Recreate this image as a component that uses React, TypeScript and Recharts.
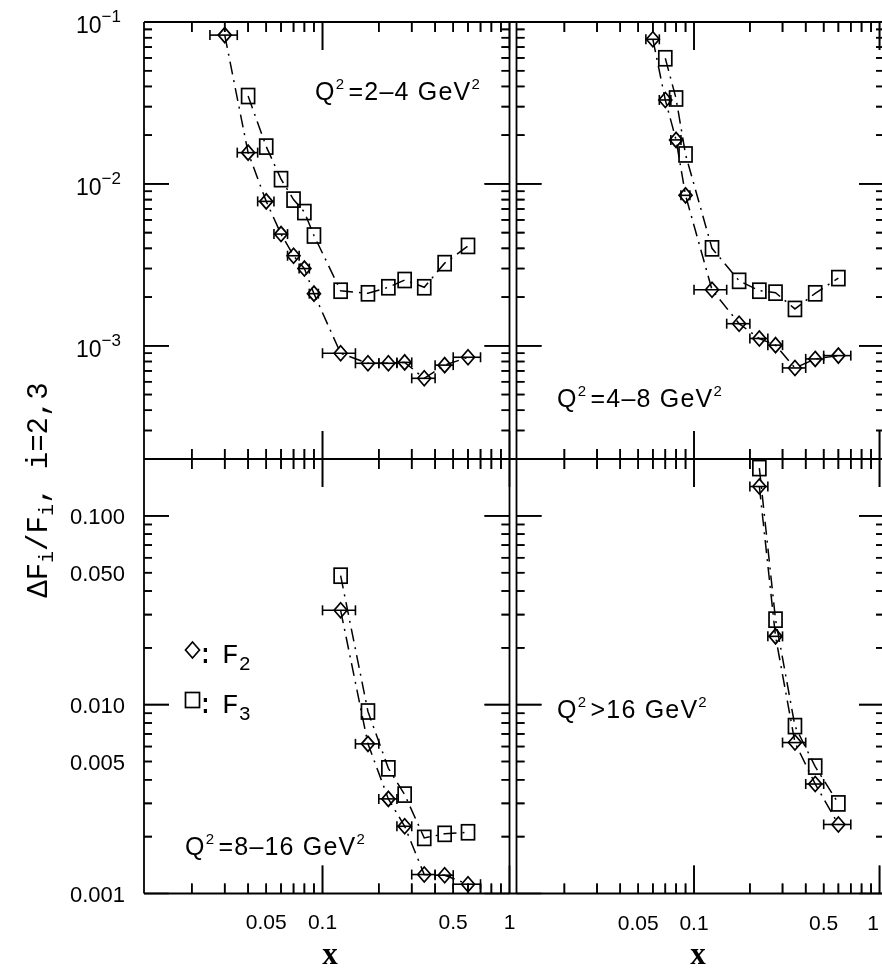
import React from 'react';
import { ScatterChart, Scatter, XAxis, YAxis, ErrorBar, ReferenceLine } from 'recharts';

// ---- x bins (centre, low edge, high edge) ----
const binCenters = [0.03, 0.04, 0.05, 0.06, 0.07, 0.08, 0.09, 0.125, 0.175, 0.225, 0.275, 0.35, 0.45, 0.6];
const binLow = [0.025, 0.035, 0.045, 0.055, 0.065, 0.075, 0.085, 0.1, 0.15, 0.2, 0.25, 0.3, 0.4, 0.5];
const binHigh = [0.035, 0.045, 0.055, 0.065, 0.075, 0.085, 0.095, 0.15, 0.2, 0.25, 0.3, 0.4, 0.5, 0.7];

// ---- Q^2 = 2-4 GeV^2 ----
const p1F2x = [0.03, 0.04, 0.05, 0.06, 0.07, 0.08, 0.09, 0.125, 0.175, 0.225, 0.275, 0.35, 0.45, 0.6];
const p1F2y = [0.083, 0.0156, 0.0078, 0.0049, 0.0036, 0.003, 0.0021, 0.0009, 0.00078, 0.00078, 0.00079, 0.00063, 0.00076, 0.00085];
const p1F3x = [0.04, 0.05, 0.06, 0.07, 0.08, 0.09, 0.125, 0.175, 0.225, 0.275, 0.35, 0.45, 0.6];
const p1F3y = [0.0349, 0.017, 0.0107, 0.008, 0.0067, 0.0048, 0.00219, 0.00211, 0.0023, 0.00255, 0.0023, 0.00324, 0.00414];

// ---- Q^2 = 4-8 GeV^2 ----
const p2F2x = [0.06, 0.07, 0.08, 0.09, 0.125, 0.175, 0.225, 0.275, 0.35, 0.45, 0.6];
const p2F2y = [0.0782, 0.033, 0.0187, 0.0085, 0.00222, 0.00137, 0.00111, 0.00101, 0.00073, 0.00083, 0.00087];
const p2F3x = [0.07, 0.08, 0.09, 0.125, 0.175, 0.225, 0.275, 0.35, 0.45, 0.6];
const p2F3y = [0.0597, 0.0337, 0.0152, 0.004, 0.00252, 0.00219, 0.00213, 0.00169, 0.00211, 0.00262];

// ---- Q^2 = 8-16 GeV^2 ----
const p3F2x = [0.125, 0.175, 0.225, 0.275, 0.35, 0.45, 0.6];
const p3F2y = [0.0316, 0.0062, 0.00317, 0.00227, 0.00126, 0.00125, 0.00112];
const p3F3x = [0.125, 0.175, 0.225, 0.275, 0.35, 0.45, 0.6];
const p3F3y = [0.0482, 0.0092, 0.0046, 0.00334, 0.00197, 0.00207, 0.00211];

// ---- Q^2 > 16 GeV^2 ----
const p4F2x = [0.225, 0.275, 0.35, 0.45, 0.6];
const p4F2y = [0.143, 0.023, 0.0063, 0.0038, 0.00232];
const p4F3x = [0.225, 0.275, 0.35, 0.45, 0.6];
const p4F3y = [0.179, 0.0282, 0.0077, 0.0047, 0.003];

// ---- ticks ----
const xTicks = [0.02, 0.03, 0.04, 0.05, 0.06, 0.07, 0.08, 0.09, 0.1, 0.2, 0.3, 0.4, 0.5, 0.6, 0.7, 0.8, 0.9, 1];
const xLabelValues = [0.05, 0.1, 0.5, 1];
const xLabelTexts = ['0.05', '0.1', '0.5', '1'];

const yTicksTop = [0.0003, 0.0004, 0.0005, 0.0006, 0.0007, 0.0008, 0.0009, 0.001, 0.002, 0.003, 0.004, 0.005, 0.006, 0.007, 0.008, 0.009, 0.01, 0.02, 0.03, 0.04, 0.05, 0.06, 0.07, 0.08, 0.09, 0.1];
const yTopLabelValues = [0.1, 0.01, 0.001];
const yTopLabelExps = ['\u22121', '\u22122', '\u22123'];

const yTicksBottom = [0.001, 0.002, 0.003, 0.004, 0.005, 0.006, 0.007, 0.008, 0.009, 0.01, 0.02, 0.03, 0.04, 0.05, 0.06, 0.07, 0.08, 0.09, 0.1];
const yBottomLabelValues = [0.1, 0.05, 0.01, 0.005, 0.001];
const yBottomLabelTexts = ['0.100', '0.050', '0.010', '0.005', '0.001'];

const SANS = '"Liberation Sans", Arial, Helvetica, sans-serif';
const MONO = '"Liberation Mono", "Courier New", monospace';
const SERIF = '"Liberation Serif", "Times New Roman", serif';

// ---- layout: one chart, four log-log panels sharing its plot area ----
const CHART_W = 890;
const CHART_H = 973;
const PLOT = { left: 144, right: 884, top: 22, bottom: 893.5 };
const EDGE_X = { leftL: 144, leftR: 509.5, rightL: 516.5, rightR: 884 };
const EDGE_Y = { top: 22, mid: 459, bottom: 893.5 };
type Cal = { v0: number; p0: number; v1: number; p1: number };
const xLeftCal: Cal = { v0: 0.0111, p0: EDGE_X.leftL, v1: 1, p1: EDGE_X.leftR };
const xRightCal: Cal = { v0: 0.01104, p0: EDGE_X.rightL, v1: 1.057, p1: EDGE_X.rightR };
const yTopCal: Cal = { v0: 0.1, p0: EDGE_Y.top, v1: 0.0002, p1: EDGE_Y.mid };
const yBotCal: Cal = { v0: 0.2, p0: EDGE_Y.mid, v1: 0.001, p1: EDGE_Y.bottom };

const lg = Math.log10;
const valueAt = (c: Cal, p: number) => Math.pow(10, lg(c.v0) + ((p - c.p0) * (lg(c.v1) - lg(c.v0))) / (c.p1 - c.p0));
const pxPerDec = (c: Cal) => Math.abs((c.p1 - c.p0) / (lg(c.v1) - lg(c.v0)));
const domainX = (c: Cal) => [valueAt(c, PLOT.left), valueAt(c, PLOT.right)];
const domainY = (c: Cal) => [valueAt(c, PLOT.bottom), valueAt(c, PLOT.top)];

const buildSeries = (xs: number[], ys: number[]) =>
  xs.map((x, i) => {
    const k = binCenters.indexOf(x);
    return { x, y: ys[i], xerr: [x - binLow[k], binHigh[k] - x] };
  });

const isMajor = (v: number) => Math.abs(lg(v) - Math.round(lg(v))) < 1e-6;

const X_MAJOR = 28;
const X_MINOR = 10;
const Y_MAJOR = 25;
const Y_MINOR = 8;
const TICK_W = 1.6;

// ---- axis tick renderers: inward tick marks on every panel edge + labels ----
const makeXTick = (maxX: number) => (props: any) => {
  const { x, y, payload } = props;
  const X = Number(x);
  const Y = Number(y);
  const v = payload.value;
  const L = isMajor(v) ? X_MAJOR : X_MINOR;
  const li = xLabelValues.indexOf(v);
  const d =
    `M${X},${EDGE_Y.top}L${X},${EDGE_Y.top + L}` +
    `M${X},${EDGE_Y.mid}L${X},${EDGE_Y.mid - L}` +
    `M${X},${EDGE_Y.mid}L${X},${EDGE_Y.mid + L}` +
    `M${X},${EDGE_Y.bottom}L${X},${EDGE_Y.bottom - L}`;
  return (
    <g>
      <path d={d} stroke="#000" strokeWidth={TICK_W} fill="none" />
      {li >= 0 && (
        <text x={Math.min(X, maxX)} y={Y + 35} textAnchor="middle" fontFamily={SANS} fontSize={21} fill="#000">
          {xLabelTexts[li]}
        </text>
      )}
    </g>
  );
};

const yTickPath = (Y: number, L: number) =>
  `M${EDGE_X.leftL},${Y}L${EDGE_X.leftL + L},${Y}` +
  `M${EDGE_X.leftR},${Y}L${EDGE_X.leftR - L},${Y}` +
  `M${EDGE_X.rightL},${Y}L${EDGE_X.rightL + L},${Y}` +
  `M${EDGE_X.rightR},${Y}L${EDGE_X.rightR - L},${Y}`;

const topYTick = (props: any) => {
  const { x, y, payload } = props;
  const X = Number(x);
  const Y = Number(y);
  const v = payload.value;
  const li = yTopLabelValues.indexOf(v);
  return (
    <g>
      <path d={yTickPath(Y, isMajor(v) ? Y_MAJOR : Y_MINOR)} stroke="#000" strokeWidth={TICK_W} fill="none" />
      {li >= 0 && (
        <text x={X - 22} y={Y + 11} textAnchor="end" fontFamily={SANS} fontSize={23} fill="#000">
          10
          <tspan dy={-11} fontSize={17}>
            {yTopLabelExps[li]}
          </tspan>
        </text>
      )}
    </g>
  );
};

const bottomYTick = (props: any) => {
  const { x, y, payload } = props;
  const X = Number(x);
  const Y = Number(y);
  const v = payload.value;
  const li = yBottomLabelValues.indexOf(v);
  return (
    <g>
      <path d={yTickPath(Y, isMajor(v) ? Y_MAJOR : Y_MINOR)} stroke="#000" strokeWidth={TICK_W} fill="none" />
      {li >= 0 && (
        <text x={X - 19} y={Y + 8} textAnchor="end" fontFamily={SANS} fontSize={22} fill="#000">
          {yBottomLabelTexts[li]}
        </text>
      )}
    </g>
  );
};

// ---- markers ----
const DiamondShape = (props: any) => {
  const { cx, cy } = props;
  if (cx == null || cy == null) return <g />;
  return (
    <polygon
      points={`${cx},${cy - 7.5} ${cx + 6.5},${cy} ${cx},${cy + 7.5} ${cx - 6.5},${cy}`}
      fill="none"
      stroke="#000"
      strokeWidth={1.7}
    />
  );
};

const SquareShape = (props: any) => {
  const { cx, cy } = props;
  if (cx == null || cy == null) return <g />;
  return <rect x={cx - 6.5} y={cy - 7.5} width={13} height={15} fill="none" stroke="#000" strokeWidth={1.7} />;
};

const HiddenShape = () => <g />;

const lineStyle = { stroke: '#000', strokeWidth: 1.5, strokeDasharray: '13 6 2 6' };

type PanelDef = {
  key: string;
  xId: string;
  yId: string;
  xCal: Cal;
  yCal: Cal;
  x0: number;
  x1: number;
  y0: number;
  y1: number;
  yTicks: number[];
  f2: { x: number; y: number; xerr: number[] }[];
  f3: { x: number; y: number; xerr: number[] }[];
};

const panels: PanelDef[] = [
  { key: 'a', xId: 'xl', yId: 'yt', xCal: xLeftCal, yCal: yTopCal, x0: 0.0111, x1: 1, y0: 0.0002, y1: 0.1, yTicks: yTicksTop, f2: buildSeries(p1F2x, p1F2y), f3: buildSeries(p1F3x, p1F3y) },
  { key: 'b', xId: 'xr', yId: 'yt', xCal: xRightCal, yCal: yTopCal, x0: 0.01104, x1: 1.057, y0: 0.0002, y1: 0.1, yTicks: yTicksTop, f2: buildSeries(p2F2x, p2F2y), f3: buildSeries(p2F3x, p2F3y) },
  { key: 'c', xId: 'xl', yId: 'yb', xCal: xLeftCal, yCal: yBotCal, x0: 0.0111, x1: 1, y0: 0.001, y1: 0.2, yTicks: yTicksBottom, f2: buildSeries(p3F2x, p3F2y), f3: buildSeries(p3F3x, p3F3y) },
  { key: 'd', xId: 'xr', yId: 'yb', xCal: xRightCal, yCal: yBotCal, x0: 0.01104, x1: 1.057, y0: 0.001, y1: 0.2, yTicks: yTicksBottom, f2: buildSeries(p4F2x, p4F2y), f3: buildSeries(p4F3x, p4F3y) },
];

// tick anchors on the panel edges; their error bars (in data units) draw the inward marks
const tickAnchors = (p: PanelDef) => {
  const fy = (L: number) => Math.pow(10, L / pxPerDec(p.yCal));
  const fx = (L: number) => Math.pow(10, L / pxPerDec(p.xCal));
  const pts: { x: number; y: number; ex: number[]; ey: number[] }[] = [];
  xTicks
    .filter((v) => v > p.x0 * 1.0001 && v < p.x1 * 0.9999)
    .forEach((v) => {
      const f = fy(isMajor(v) ? X_MAJOR : X_MINOR);
      pts.push({ x: v, y: p.y0, ex: [0, 0], ey: [0, p.y0 * f - p.y0] });
      pts.push({ x: v, y: p.y1, ex: [0, 0], ey: [p.y1 - p.y1 / f, 0] });
    });
  p.yTicks
    .filter((v) => v > p.y0 * 1.0001 && v < p.y1 * 0.9999)
    .forEach((v) => {
      const g = fx(isMajor(v) ? Y_MAJOR : Y_MINOR);
      pts.push({ x: p.x0, y: v, ex: [0, p.x0 * g - p.x0], ey: [0, 0] });
      pts.push({ x: p.x1, y: v, ex: [p.x1 - p.x1 / g, 0], ey: [0, 0] });
    });
  return pts;
};

const Sup = ({ children }: { children: React.ReactNode }) => (
  <>
    <tspan dy={-11} fontSize={15}>
      {children}
    </tspan>
    <tspan dy={11}>{'\u200a'}</tspan>
  </>
);

export default function App() {
  const margin = {
    top: PLOT.top,
    left: PLOT.left - 2,
    right: CHART_W - PLOT.right,
    bottom: CHART_H - PLOT.bottom - 2,
  };
  const frame = { stroke: '#000', strokeWidth: 1.8, ifOverflow: 'visible' as const };
  return (
    <div style={{ position: 'fixed', left: 0, top: 0, width: 882, height: 973, background: '#fff' }}>
      <ScatterChart width={CHART_W} height={CHART_H} margin={margin}>
        <XAxis
          xAxisId="xl"
          orientation="bottom"
          type="number"
          dataKey="x"
          scale="log"
          domain={domainX(xLeftCal)}
          allowDataOverflow
          ticks={xTicks}
          interval={0}
          height={1}
          tickSize={0}
          tickMargin={0}
          axisLine={false}
          tickLine={false}
          tick={makeXTick(873)}
        />
        <XAxis
          xAxisId="xr"
          orientation="bottom"
          type="number"
          dataKey="x"
          scale="log"
          domain={domainX(xRightCal)}
          allowDataOverflow
          ticks={xTicks}
          interval={0}
          height={1}
          tickSize={0}
          tickMargin={0}
          axisLine={false}
          tickLine={false}
          tick={makeXTick(873)}
        />
        <YAxis
          yAxisId="yt"
          orientation="left"
          type="number"
          dataKey="y"
          scale="log"
          domain={domainY(yTopCal)}
          allowDataOverflow
          ticks={yTicksTop}
          interval={0}
          width={1}
          tickSize={0}
          tickMargin={0}
          axisLine={false}
          tickLine={false}
          tick={topYTick}
        />
        <YAxis
          yAxisId="yb"
          orientation="left"
          type="number"
          dataKey="y"
          scale="log"
          domain={domainY(yBotCal)}
          allowDataOverflow
          ticks={yTicksBottom}
          interval={0}
          width={1}
          tickSize={0}
          tickMargin={0}
          axisLine={false}
          tickLine={false}
          tick={bottomYTick}
        />

        {/* panel frames */}
        <ReferenceLine xAxisId="xl" yAxisId="yt" x={xLeftCal.v0} {...frame} />
        <ReferenceLine xAxisId="xl" yAxisId="yt" x={xLeftCal.v1} {...frame} />
        <ReferenceLine xAxisId="xr" yAxisId="yt" x={xRightCal.v0} {...frame} />
        <ReferenceLine xAxisId="xr" yAxisId="yt" x={xRightCal.v1} {...frame} />
        <ReferenceLine xAxisId="xl" yAxisId="yt" y={yTopCal.v0} {...frame} />
        <ReferenceLine xAxisId="xl" yAxisId="yt" y={yTopCal.v1} {...frame} />
        <ReferenceLine xAxisId="xl" yAxisId="yb" y={yBotCal.v1} {...frame} />

        {/* tick marks drawn as error bars of edge anchors (second, redundant route) */}
        {panels.map((p) => (
          <Scatter
            key={`tk${p.key}`}
            name="ticks"
            data={tickAnchors(p)}
            xAxisId={p.xId}
            yAxisId={p.yId}
            shape={HiddenShape}
            fill="none"
            isAnimationActive={false}
            legendType="none"
          >
            <ErrorBar dataKey="ex" direction="x" width={0} stroke="#000" strokeWidth={TICK_W} />
            <ErrorBar dataKey="ey" direction="y" width={0} stroke="#000" strokeWidth={TICK_W} />
          </Scatter>
        ))}

        {panels.map((p) => (
          <Scatter
            key={`f2${p.key}`}
            name="F2"
            data={p.f2}
            xAxisId={p.xId}
            yAxisId={p.yId}
            shape={DiamondShape}
            fill="none"
            stroke="#000"
            line={lineStyle}
            isAnimationActive={false}
          >
            <ErrorBar dataKey="xerr" direction="x" width={5} stroke="#000" strokeWidth={1.6} />
          </Scatter>
        ))}
        {panels.map((p) => (
          <Scatter
            key={`f3${p.key}`}
            name="F3"
            data={p.f3}
            xAxisId={p.xId}
            yAxisId={p.yId}
            shape={SquareShape}
            fill="none"
            stroke="#000"
            line={lineStyle}
            isAnimationActive={false}
          />
        ))}
      </ScatterChart>
      <svg width={882} height={973} style={{ position: 'absolute', left: 0, top: 0, pointerEvents: 'none' }}>
        {/* panel annotations */}
        <text x={315} y={100} fontFamily={SANS} fontSize={25} letterSpacing={1.2} fill="#000">
          Q<Sup>2</Sup>=2–4 GeV<Sup>2</Sup>
        </text>
        <text x={557} y={407} fontFamily={SANS} fontSize={25} letterSpacing={1.2} fill="#000">
          Q<Sup>2</Sup>=4–8 GeV<Sup>2</Sup>
        </text>
        <text x={185} y={855} fontFamily={SANS} fontSize={25} letterSpacing={1.2} fill="#000">
          Q<Sup>2</Sup>=8–16 GeV<Sup>2</Sup>
        </text>
        <text x={557} y={718} fontFamily={SANS} fontSize={25} letterSpacing={1.2} fill="#000">
          Q<Sup>2</Sup>&gt;16 GeV<Sup>2</Sup>
        </text>

        {/* legend */}
        <polygon points="192.5,642 199.5,650 192.5,658 185.5,650" fill="none" stroke="#000" strokeWidth={1.7} />
        <text x={197} y={663} fontFamily={MONO} fontSize={28} fill="#000">
          :
          <tspan x={222}>F</tspan>
          <tspan dy={7} fontSize={20}>
            2
          </tspan>
        </text>
        <rect x={185.5} y={692.5} width={14} height={15} fill="none" stroke="#000" strokeWidth={1.7} />
        <text x={197} y={713} fontFamily={MONO} fontSize={28} fill="#000">
          :
          <tspan x={222}>F</tspan>
          <tspan dy={7} fontSize={20}>
            3
          </tspan>
        </text>

        {/* axis titles */}
        <text x={330} y={964} textAnchor="middle" fontFamily={SERIF} fontWeight="bold" fontSize={31} fill="#000">
          x
        </text>
        <text x={698} y={964} textAnchor="middle" fontFamily={SERIF} fontWeight="bold" fontSize={31} fill="#000">
          x
        </text>
        <text transform="translate(47,490) rotate(-90)" textAnchor="middle" fontFamily={MONO} fontSize={29} fill="#000">
          ΔF
          <tspan dy={6} fontSize={20}>
            i
          </tspan>
          <tspan dy={-6}>/F</tspan>
          <tspan dy={6} fontSize={20}>
            i
          </tspan>
          <tspan dy={-6}>, i=2,3</tspan>
        </text>
      </svg>
    </div>
  );
}
